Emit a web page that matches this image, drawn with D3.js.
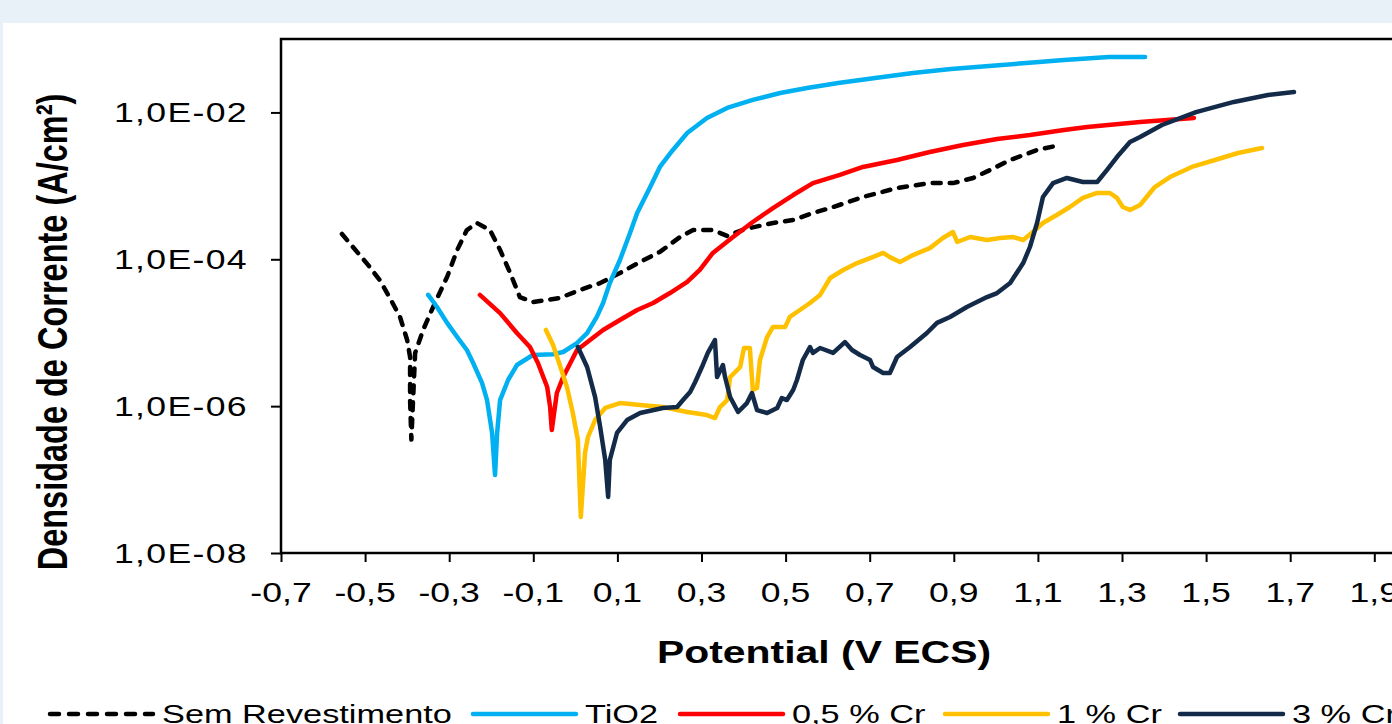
<!DOCTYPE html>
<html>
<head>
<meta charset="utf-8">
<script src="https://cdn.jsdelivr.net/npm/d3@7"></script>
<style>
  html, body { margin: 0; padding: 0; background: #E8F0F8; overflow: hidden; }
  svg { display: block; }
  text { font-family: "Liberation Sans", Arial, "DejaVu Sans", sans-serif; fill: #000; }
</style>
</head>
<body>
<svg id="chart" width="1392" height="724"></svg>
<script>
// ---- data (potential V ECS, current density A/cm²) ----
const seriesNames = ["Sem Revestimento", "TiO2", "0,5 % Cr", "1 % Cr", "3 % Cr"];
const seriesColors = ["#000000", "#00B0F0", "#FF0000", "#FFC000", "#132B48"];

const semRevestimento = [
  [-0.555,2.21e-4],[-0.529,1.47e-4],[-0.493,8.4e-5],[-0.465,5.2e-5],[-0.441,2.97e-5],
  [-0.417,1.64e-5],[-0.400,7.96e-6],[-0.393,4.67e-6],[-0.393,1.2e-6],[-0.390,3.5e-7],
  [-0.386,1.2e-6],[-0.381,5.3e-6],[-0.362,1.09e-5],[-0.334,2.54e-5],[-0.305,5.74e-5],
  [-0.281,1.34e-4],[-0.258,2.5e-4],[-0.234,3.12e-4],[-0.203,2.5e-4],[-0.179,1.34e-4],
  [-0.155,6.5e-5],[-0.132,3.06e-5],[-0.101,2.62e-5],[-0.067,2.79e-5],[-0.037,2.97e-5],
  [0.011,3.82e-5],[0.059,4.75e-5],[0.106,6.5e-5],[0.154,9.2e-5],[0.201,1.26e-4],
  [0.249,2.01e-4],[0.280,2.5e-4],[0.327,2.5e-4],[0.361,2.08e-4],[0.403,2.58e-4],
  [0.470,3.12e-4],[0.518,3.43e-4],[0.565,4.27e-4],[0.606,4.99e-4],[0.684,7.05e-4],
  [0.765,9.35e-4],[0.843,1.09e-3],[0.898,1.09e-3],[0.946,1.28e-3],[0.986,1.64e-3],
  [1.034,2.25e-3],[1.098,3.08e-3],[1.153,3.6e-3]
];
const tio2 = [
  [-0.350,3.27e-5],[-0.329,2.24e-5],[-0.305,1.36e-5],[-0.281,8.74e-6],[-0.258,5.82e-6],
  [-0.243,3.87e-6],[-0.222,2.07e-6],[-0.210,1.21e-6],[-0.198,4.31e-7],[-0.191,1.15e-7],
  [-0.186,4.31e-7],[-0.179,1.21e-6],[-0.160,2.27e-6],[-0.139,3.63e-6],[-0.101,4.97e-6],
  [-0.053,5.1e-6],[-0.029,5.46e-6],[0.004,7.24e-6],[0.028,9.9e-6],[0.051,1.64e-5],
  [0.066,2.54e-5],[0.082,4.75e-5],[0.106,9.77e-5],[0.130,2.28e-4],[0.147,4.27e-4],
  [0.178,9.64e-4],[0.201,1.81e-3],[0.232,3.08e-3],[0.266,5.25e-3],[0.313,8.4e-3],
  [0.361,1.15e-2],[0.422,1.48e-2],[0.487,1.84e-2],[0.551,2.15e-2],[0.625,2.52e-2],
  [0.713,2.94e-2],[0.803,3.44e-2],[0.893,3.9e-2],[0.984,4.28e-2],[1.072,4.71e-2],
  [1.162,5.17e-2],[1.269,5.68e-2],[1.355,5.68e-2]
];
const cr05 = [
  [-0.227,3.27e-5],[-0.179,1.85e-5],[-0.139,9.9e-6],[-0.108,6.38e-6],[-0.089,3.87e-6],
  [-0.067,1.82e-6],[-0.060,9.73e-7],[-0.056,4.73e-7],[-0.044,1.51e-6],[-0.029,2.49e-6],
  [0.004,5.82e-6],[0.035,7.96e-6],[0.066,1.09e-5],[0.106,1.49e-5],[0.147,2.04e-5],
  [0.185,2.54e-5],[0.225,3.47e-5],[0.266,4.91e-5],[0.296,7.15e-5],[0.327,1.22e-4],
  [0.375,2.01e-4],[0.422,3.22e-4],[0.470,4.99e-4],[0.518,7.5e-4],[0.565,1.09e-3],
  [0.629,1.41e-3],[0.684,1.81e-3],[0.765,2.25e-3],[0.843,2.89e-3],[0.922,3.6e-3],
  [1.003,4.34e-3],[1.081,4.93e-3],[1.162,5.77e-3],[1.217,6.33e-3],[1.343,7.4e-3],
  [1.471,8.4e-3]
];
const cr1 = [
  [-0.070,1.09e-5],[-0.053,6.81e-6],[-0.037,3.63e-6],[-0.020,1.82e-6],[-0.006,8.07e-7],
  [0.006,3.46e-7],[0.013,3.09e-8],[0.023,2.3e-7],[0.030,3.8e-7],[0.047,6.47e-7],
  [0.071,9.44e-7],[0.106,1.1e-6],[0.154,1.04e-6],[0.208,9.73e-7],[0.266,8.32e-7],
  [0.313,7.57e-7],[0.332,6.89e-7],[0.344,9.73e-7],[0.361,1.21e-6],[0.368,2.49e-6],
  [0.392,3.41e-6],[0.401,6.19e-6],[0.415,6.19e-6],[0.422,1.66e-6],[0.432,1.77e-6],
  [0.439,4.25e-6],[0.456,8.74e-6],[0.470,1.2e-5],[0.499,1.2e-5],[0.510,1.64e-5],
  [0.534,2.04e-5],[0.558,2.54e-5],[0.582,3.27e-5],[0.606,5.56e-5],[0.637,7.15e-5],
  [0.670,8.89e-5],[0.701,1.04e-4],[0.732,1.22e-4],[0.748,1.07e-4],[0.772,9.2e-5],
  [0.803,1.14e-4],[0.843,1.42e-4],[0.874,1.95e-4],[0.898,2.35e-4],[0.908,1.72e-4],
  [0.939,2.01e-4],[0.979,1.83e-4],[1.010,1.95e-4],[1.041,2.01e-4],[1.065,1.83e-4],
  [1.088,2.35e-4],[1.112,3.12e-4],[1.145,4.01e-4],[1.176,5.15e-4],[1.207,6.84e-4],
  [1.241,8.0e-4],[1.271,8.0e-4],[1.288,6.84e-4],[1.302,5.15e-4],[1.319,4.69e-4],
  [1.343,5.48e-4],[1.378,9.64e-4],[1.414,1.32e-3],[1.466,1.81e-3],[1.521,2.25e-3],
  [1.576,2.8e-3],[1.633,3.27e-3]
];
const cr3 = [
  [0.006,6.38e-6],[0.028,3.41e-6],[0.047,1.33e-6],[0.059,5.2e-7],[0.071,1.85e-7],
  [0.078,5.8e-8],[0.082,1.85e-7],[0.099,4.31e-7],[0.123,6.47e-7],[0.154,8.07e-7],
  [0.208,9.44e-7],[0.242,9.73e-7],[0.256,1.21e-6],[0.273,1.56e-6],[0.285,2.13e-6],
  [0.301,3.41e-6],[0.315,5.3e-6],[0.332,7.96e-6],[0.337,2.49e-6],[0.351,3.63e-6],
  [0.356,2.49e-6],[0.368,1.33e-6],[0.387,8.32e-7],[0.408,1.1e-6],[0.420,1.51e-6],
  [0.432,8.85e-7],[0.456,8.07e-7],[0.480,9.44e-7],[0.491,1.29e-6],[0.503,1.21e-6],
  [0.518,1.66e-6],[0.527,2.27e-6],[0.541,4.25e-6],[0.558,6.38e-6],[0.565,5.3e-6],
  [0.582,6.19e-6],[0.613,5.3e-6],[0.641,7.46e-6],[0.658,5.82e-6],[0.677,4.97e-6],
  [0.701,4.25e-6],[0.708,3.41e-6],[0.732,2.83e-6],[0.748,2.83e-6],[0.765,4.67e-6],
  [0.796,6.38e-6],[0.836,9.9e-6],[0.860,1.36e-5],[0.891,1.64e-5],[0.931,2.24e-5],
  [0.979,3.06e-5],[1.003,3.47e-5],[1.034,4.75e-5],[1.065,8.89e-5],[1.081,1.47e-4],
  [1.098,3.12e-4],[1.112,7.05e-4],[1.136,1.09e-3],[1.169,1.28e-3],[1.207,1.13e-3],
  [1.241,1.13e-3],[1.264,1.64e-3],[1.288,2.47e-3],[1.319,3.95e-3],[1.343,4.62e-3],
  [1.395,6.74e-3],[1.476,1.01e-2],[1.566,1.39e-2],[1.647,1.73e-2],[1.709,1.9e-2]
];
const seriesData = [semRevestimento, tio2, cr05, cr1, cr3];

const xTicks = [-0.7,-0.5,-0.3,-0.1,0.1,0.3,0.5,0.7,0.9,1.1,1.3,1.5,1.7,1.9];
const yTicks = [1e-2, 1e-4, 1e-6, 1e-8];
const yTickLabels = ["1,0E-02", "1,0E-04", "1,0E-06", "1,0E-08"];
const xTitle = "Potential (V ECS)";
const yTitle = "Densidade de Corrente (A/cm²)";

// ---- layout ----
const SX = 1.32; // horizontal stretch of text as in the reference
const plot = { left: 281, top: 39, bottom: 553 };
const x = d3.scaleLinear().domain([-0.7, 2.1]).range([plot.left, plot.left + 2.8 * 420.5]);
const y = d3.scaleLog().domain([1e-8, 1e-1]).range([plot.bottom, plot.top]);

const svg = d3.select("#chart");
svg.append("rect").attr("x", 3).attr("y", 23).attr("width", 1400).attr("height", 720).attr("fill", "#FFFFFF");

function stretchedText(g, tx, ty, str, opts) {
  const t = g.append("text")
    .attr("transform", `translate(${tx},${ty}) scale(${SX},1)` + (opts.rotate ? ` rotate(${opts.rotate})` : ""))
    .attr("text-anchor", opts.anchor || "start")
    .attr("font-size", opts.size)
    .attr("font-weight", opts.weight || "normal")
    .text(str);
  if (opts.spacing) t.attr("letter-spacing", opts.spacing);
  return t;
}

// series lines
const line = d3.line().x(d => x(d[0])).y(d => y(d[1]));
const gLines = svg.append("g");
seriesData.forEach((data, i) => {
  const p = gLines.append("path")
    .datum(data)
    .attr("d", line)
    .attr("fill", "none")
    .attr("stroke", seriesColors[i])
    .attr("stroke-width", 4.5)
    .attr("stroke-linejoin", "round")
    .attr("stroke-linecap", "round");
  if (i === 0) p.attr("stroke-dasharray", "8,9");
});

// frame
const frame = svg.append("g").attr("stroke", "#000").attr("stroke-width", 2.5).attr("fill", "none");
frame.append("rect").attr("x", plot.left).attr("y", plot.top)
  .attr("width", x(2.1) - plot.left).attr("height", plot.bottom - plot.top);

// axes ticks
const xAxis = d3.axisBottom(x).tickValues(xTicks).tickSize(9).tickFormat("");
const gx = svg.append("g").attr("transform", `translate(0,${plot.bottom})`).call(xAxis);
gx.select(".domain").remove();
gx.selectAll("line").attr("stroke", "#000").attr("stroke-width", 2);

const yAxis = d3.axisLeft(y).tickValues(yTicks).tickSize(10).tickFormat("");
const gy = svg.append("g").attr("transform", `translate(${plot.left},0)`).call(yAxis);
gy.select(".domain").remove();
gy.selectAll("line").attr("stroke", "#000").attr("stroke-width", 2);

// tick labels
const gl = svg.append("g");
xTicks.forEach(v => {
  stretchedText(gl, x(v), 602, v.toFixed(1).replace(".", ","), { anchor: "middle", size: 27 });
});
yTicks.forEach((v, i) => {
  stretchedText(gl, 248, y(v) + 10, yTickLabels[i], { anchor: "end", size: 27, spacing: 1 });
});

// titles
stretchedText(svg, 824, 663, xTitle, { anchor: "middle", size: 31, weight: "bold" });
stretchedText(svg, 67, 332, yTitle, { anchor: "middle", size: 32.5, weight: "bold", rotate: -90 });

// legend
const legendX = [50, 473, 680, 945, 1180];
const gLeg = svg.append("g");
seriesNames.forEach((name, i) => {
  const l = gLeg.append("line")
    .attr("x1", legendX[i]).attr("x2", legendX[i] + 103)
    .attr("y1", 714).attr("y2", 714)
    .attr("stroke", seriesColors[i]).attr("stroke-width", 4.5).attr("stroke-linecap", "round");
  if (i === 0) l.attr("stroke-dasharray", "9,10");
  stretchedText(gLeg, legendX[i] + 112, 723, name, { anchor: "start", size: 26 });
});
</script>
</body>
</html>
